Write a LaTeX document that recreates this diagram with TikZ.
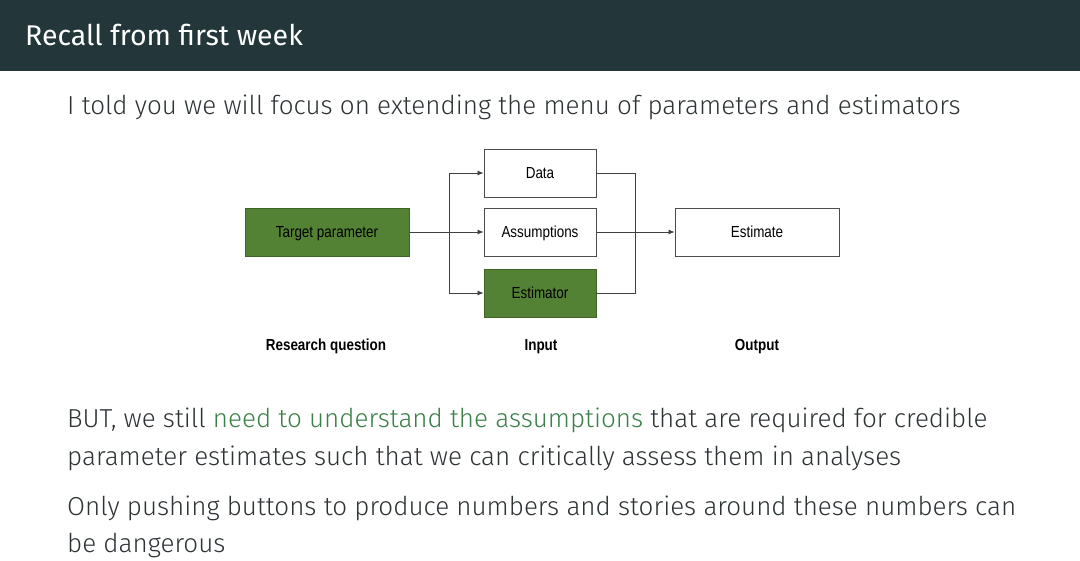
\documentclass[tikz,border=0pt]{standalone}
\usepackage{fontspec}
\newfontfamily\bodyfont{Fira Sans Light}
\newfontfamily\titlefont{Fira Sans}
\newfontfamily\diafont{Liberation Sans}[FakeStretch=0.84]
\usetikzlibrary{arrows.meta}
\definecolor{mDarkTeal}{HTML}{23373B}
\definecolor{bodygray}{HTML}{2E3436}
\definecolor{boxgreen}{HTML}{548235}
\definecolor{boxedge}{HTML}{3F6427}
\definecolor{hlgreen}{HTML}{3A8048}
\tikzset{
  box/.style={draw=black!70, line width=0.9pt, minimum width=#1, minimum height=48pt, inner sep=0pt, text depth=0pt, font=\diafont\fontsize{16}{18}\selectfont, text=black},
  gbox/.style={box=#1, fill=boxgreen, draw=boxedge},
  conn/.style={draw=black!75, line width=0.8pt},
  arr/.style={conn, -{Latex[length=6pt,width=5pt]}},
  lab/.style={font=\diafont\bfseries\fontsize{16}{18}\selectfont, text=black, anchor=base},
  body/.style={font=\bodyfont\fontsize{26}{37}\selectfont, text=bodygray, anchor=base west, inner sep=0pt},
}
\begin{document}
\begin{tikzpicture}[x=1pt,y=-1pt]
\useasboundingbox (0,0) rectangle (1080,561);
\fill[white] (0,0) rectangle (1080,561);
\fill[mDarkTeal] (0,0) rectangle (1080,71) coordinate (hdr);
\node[font=\titlefont\fontsize{28.5}{34}\selectfont, text=white, anchor=base west, inner sep=0pt] (title) at (25,46) {Recall from first week};
\node[body] (l1) at (67,115) {I told you we will focus on extending the menu of parameters and estimators};

% diagram
\node[gbox=164pt] (tp) at (327,232) {Target parameter};
\node[box=112pt] (data) at (540,173) {Data};
\node[box=112pt] (ass) at (540,232) {Assumptions};
\node[gbox=112pt] (est) at (540,293) {Estimator};
\node[box=164pt] (out) at (757,232) {Estimate};
\coordinate (bl) at (449,232);
\coordinate (br) at (635,232);
\draw[conn] (tp.east) -- (bl);
\draw[arr] (bl) -- (ass.west);
\draw[arr] (bl) |- (data.west);
\draw[arr] (bl) |- (est.west);
\draw[conn] (data.east) -| (br);
\draw[conn] (est.east) -| (br);
\draw[arr] (ass.east) -- (out.west);
\node[lab] (rq) at (326,351) {Research question};
\node[lab] (inp) at (541,351) {Input};
\node[lab] (outp) at (757,351) {Output};

\node[body] (p2a) at (67,428) {BUT, we still \textcolor{hlgreen}{need to understand the assumptions} that are required for credible};
\node[body] (p2b) at (67,465) {parameter estimates such that we can critically assess them in analyses};
\node[body] (p3a) at (67,515) {Only pushing buttons to produce numbers and stories around these numbers can};
\node[body] (p3b) at (67,552) {be dangerous};
\end{tikzpicture}
\end{document}
